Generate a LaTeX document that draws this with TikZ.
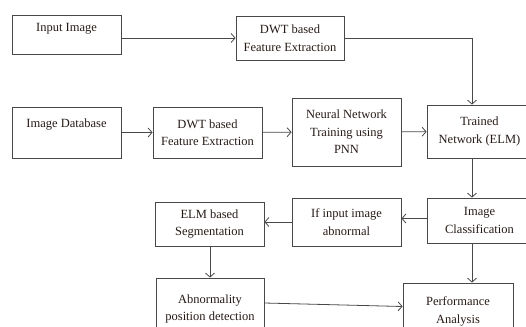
\documentclass[tikz,border=0pt]{standalone}
\usepackage{fontspec}
\setmainfont{Liberation Serif}
\usetikzlibrary{arrows.meta}
\definecolor{boxline}{RGB}{72,72,72}
\definecolor{boxtext}{RGB}{38,26,22}

\begin{document}
\begin{tikzpicture}[x=1pt, y=-1pt,
        blk/.style={draw=boxline, line width=0.8pt, inner sep=0pt, align=center,
            text=boxtext, font=\fontsize{12.5}{17.5}\selectfont},
        flow/.style={draw=boxline, line width=0.8pt, -{Straight Barb[length=4pt,width=9pt]}}]
        \useasboundingbox (0,0) rectangle (526,326);
        \coordinate (col) at (472,0); % right hand column of arrows

        % first row
        \node[blk, minimum width=109, minimum height=39, text height=9pt, text depth=15pt] (inimg) at (66.5,34.5) {Input Image};
        \node[blk, minimum width=108, minimum height=44] (dwta) at (290,38) {DWT based\\Feature Extraction};

        % second row
        \node[blk, minimum width=109, minimum height=51, text height=9pt, text depth=19pt] (imgdb) at (66.5,132.5) {Image Database};
        \node[blk, minimum width=109, minimum height=51] (dwtb) at (207.5,132.5) {DWT based\\Feature Extraction};
        \node[blk, minimum width=109, minimum height=68] (nnt) at (346.5,132) {Neural Network\\Training using\\PNN};
        \node[blk, minimum width=105, minimum height=53] (trained) at (479.5,131.5) {Trained\\Network (ELM)};

        % third row
        \node[blk, minimum width=109, minimum height=44] (elmseg) at (209.5,224) {ELM based\\Segmentation};
        \node[blk, minimum width=109, minimum height=48] (ifabn) at (346.5,222) {If input image\\abnormal};
        \node[blk, minimum width=105, minimum height=45] (imgcls) at (479.5,220.5) {Image\\Classification};

        % last row (cut by the page edge)
        \node[blk, minimum width=108, minimum height=62] (abn) at (210,309) {Abnormality\\position detection};
        \node[blk, minimum width=110, minimum height=57] (perf) at (458,311.5) {Performance\\Analysis};

        % arrows
        \draw[flow] (inimg.east |- dwta.west) -- (dwta.west);
        \draw[flow] (dwta.east) -| (col |- trained.north);
        \draw[flow] (imgdb) -- (dwtb);
        \draw[flow] (dwtb) -- (nnt);
        \draw[flow] (nnt) -- (trained);
        \draw[flow] (col |- trained.south) -- (col |- imgcls.north);
        \draw[flow] ([yshift=2pt]imgcls.west) -- ([yshift=2pt]imgcls.west -| ifabn.east);
        \draw[flow] (ifabn.west) -- (ifabn.west -| elmseg.east);
        \draw[flow] (elmseg.south -| abn.north) -- (abn.north);
        \draw[flow] ([yshift=6pt]abn.east) -- ([yshift=5pt]perf.west);
        \draw[flow] (col |- imgcls.south) -- (col |- perf.north);
    \end{tikzpicture}
\end{document}
